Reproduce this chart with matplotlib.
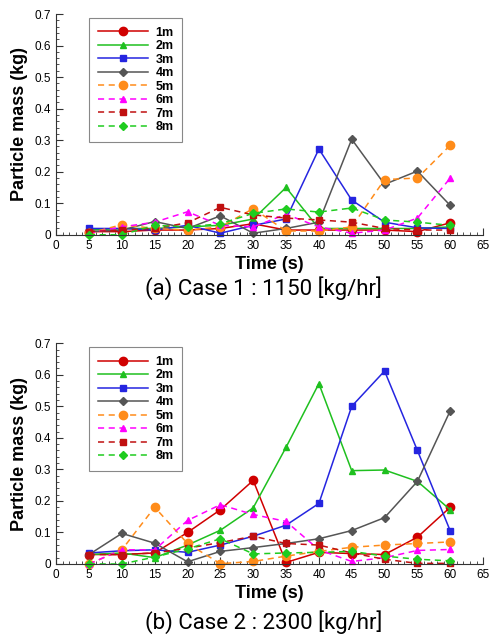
import numpy as np
import matplotlib
matplotlib.use("Agg")
import matplotlib.pyplot as plt
from matplotlib.ticker import MultipleLocator

plt.rcParams["font.family"] = ["Liberation Sans", "DejaVu Sans"]

time_s = [5, 10, 15, 20, 25, 30, 35, 40, 45, 50, 55, 60]
labels = ["1m", "2m", "3m", "4m", "5m", "6m", "7m", "8m"]

# Case 1 : 1150 kg/hr
case1 = {
    "1m": [0.010, 0.010, 0.015, 0.015, 0.020, 0.035, 0.015, 0.015, 0.015, 0.015, 0.010, 0.038],
    "2m": [0.015, 0.020, 0.020, 0.025, 0.030, 0.050, 0.150, 0.020, 0.020, 0.020, 0.020, 0.025],
    "3m": [0.020, 0.020, 0.015, 0.030, 0.005, 0.030, 0.050, 0.272, 0.110, 0.040, 0.022, 0.020],
    "4m": [0.010, 0.015, 0.042, 0.020, 0.060, 0.005, 0.020, 0.040, 0.303, 0.160, 0.202, 0.093],
    "5m": [0.005, 0.032, 0.020, 0.015, 0.025, 0.083, 0.012, 0.012, 0.025, 0.175, 0.180, 0.284],
    "6m": [0.005, 0.025, 0.040, 0.073, 0.030, 0.025, 0.065, 0.025, 0.005, 0.015, 0.053, 0.180],
    "7m": [0.010, 0.015, 0.020, 0.038, 0.087, 0.063, 0.053, 0.047, 0.040, 0.020, 0.015, 0.015],
    "8m": [0.000, 0.000, 0.030, 0.025, 0.035, 0.068, 0.082, 0.072, 0.085, 0.047, 0.040, 0.030],
}

# Case 2 : 2300 kg/hr
case2 = {
    "1m": [0.030, 0.030, 0.035, 0.100, 0.172, 0.265, 0.005, 0.037, 0.033, 0.030, 0.085, 0.180],
    "2m": [0.030, 0.035, 0.020, 0.060, 0.107, 0.178, 0.370, 0.572, 0.296, 0.298, 0.262, 0.172],
    "3m": [0.035, 0.042, 0.045, 0.037, 0.060, 0.088, 0.123, 0.192, 0.500, 0.612, 0.360, 0.105],
    "4m": [0.030, 0.097, 0.066, 0.007, 0.040, 0.052, 0.065, 0.080, 0.106, 0.147, 0.262, 0.486],
    "5m": [0.000, 0.045, 0.180, 0.065, 0.001, 0.008, 0.025, 0.040, 0.053, 0.060, 0.065, 0.070],
    "6m": [0.000, 0.045, 0.045, 0.138, 0.188, 0.157, 0.135, 0.045, 0.008, 0.020, 0.043, 0.046],
    "7m": [0.030, 0.030, 0.035, 0.050, 0.068, 0.088, 0.065, 0.060, 0.035, 0.015, 0.002, 0.002],
    "8m": [0.000, 0.000, 0.022, 0.048, 0.080, 0.032, 0.035, 0.037, 0.040, 0.025, 0.015, 0.010],
}

colors = {"1m": "#d00000", "2m": "#1fc01f", "3m": "#2525e0", "4m": "#555555",
          "5m": "#ff8c1a", "6m": "#ff00ff", "7m": "#c01010", "8m": "#1fcc1f"}
markers = {"1m": ("o", 6), "2m": ("^", 4.5), "3m": ("s", 4), "4m": ("D", 3.6),
           "5m": ("o", 6), "6m": ("^", 4.5), "7m": ("s", 4), "8m": ("D", 3.6)}
styles = {k: ("-" if i < 4 else (0, (4, 3))) for i, k in enumerate(labels)}

fig = plt.figure(figsize=(4.97, 6.38), dpi=100)
ax1 = fig.add_axes([0.113, 0.632, 0.859, 0.346])
ax2 = fig.add_axes([0.113, 0.116, 0.859, 0.346])

for ax, data in ((ax1, case1), (ax2, case2)):
    for k in labels:
        m, ms = markers[k]
        ax.plot(time_s, data[k], color=colors[k], ls=styles[k], lw=1.1,
                marker=m, ms=ms, mec=colors[k], mfc=colors[k], label=k, clip_on=False)
    ax.set_xlim(0, 65)
    ax.set_ylim(0, 0.7)
    ax.xaxis.set_major_locator(MultipleLocator(5))
    ax.xaxis.set_minor_locator(MultipleLocator(1))
    ax.yaxis.set_minor_locator(MultipleLocator(0.02))
    ax.set_yticks(np.arange(0, 0.71, 0.1))
    ax.set_yticklabels(["0"] + [f"{v:.1f}" for v in np.arange(0.1, 0.71, 0.1)])
    for s in ("top", "right"):
        ax.spines[s].set_visible(False)
    for s in ("left", "bottom"):
        ax.spines[s].set_color("#333333")
    ax.tick_params(which="both", direction="in", labelsize=8.5, colors="#333333", labelcolor="black")
    ax.tick_params(which="major", length=5)
    ax.tick_params(which="minor", length=2.5)
    ax.set_xlabel("Time (s)", fontsize=13, fontweight="bold", labelpad=3)
    ax.set_ylabel("Particle mass (kg)", fontsize=13, fontweight="bold", labelpad=5)
    leg = ax.legend(loc="upper left", bbox_to_anchor=(0.077, 0.982), borderaxespad=0,
                    prop={"weight": "bold", "size": 9}, handlelength=4.0,
                    labelspacing=0.12, borderpad=0.7, fancybox=False,
                    framealpha=1, edgecolor="#888888", handletextpad=0.6)
    leg.get_frame().set_linewidth(0.8)

cap_font = ["Roboto", "DejaVu Sans"]
fig.text(0.53, 0.548, "(a) Case 1 : 1150 [kg/hr]", ha="center", va="center",
         fontsize=16, family=cap_font, color="black")
fig.text(0.53, 0.025, "(b) Case 2 : 2300 [kg/hr]", ha="center", va="center",
         fontsize=16, family=cap_font, color="black")

fig.savefig("out.png", dpi=100)
